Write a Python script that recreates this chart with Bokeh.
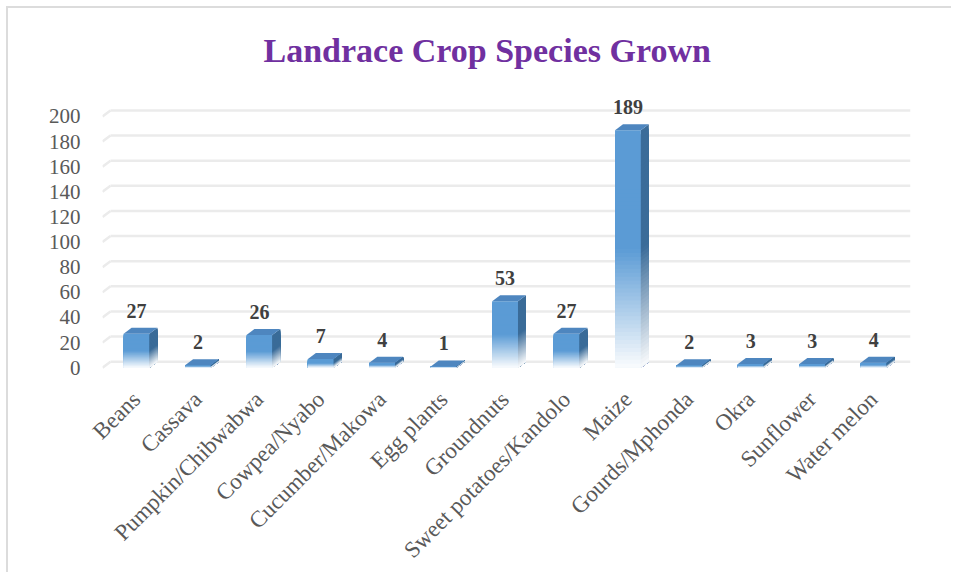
from bokeh.plotting import figure
from bokeh.models import Range1d, FixedTicker, ColumnDataSource
from bokeh.embed import file_html
from bokeh.resources import INLINE
import math

# ---- data ----
categories = ["Beans", "Cassava", "Pumpkin/Chibwabwa", "Cowpea/Nyabo", "Cucumber/Makowa",
              "Egg plants", "Groundnuts", "Sweet potatoes/Kandolo", "Maize", "Gourds/Mphonda",
              "Okra", "Sunflower", "Water melon"]
counts = [27, 2, 26, 7, 4, 1, 53, 27, 189, 2, 3, 3, 4]
y_ticks = [0, 20, 40, 60, 80, 100, 120, 140, 160, 180, 200]
title_text = "Landrace Crop Species Grown"

# ---- style / geometry ----
FRONT = (91, 155, 213)
SIDE = (59, 108, 153)
TOP = "#4E86BF"
HALF = 0.21        # half width of front face (category units)
DX = 0.13          # 3D depth offset, x (category units)
DY = 4.76          # 3D depth offset, y (value units)
NSLICE = 60

x_start, x_end = -0.554, 12.6
y_start, y_end = -3, 221.4

p = figure(width=945, height=566, output_backend="svg", toolbar_location=None,
           x_range=Range1d(x_start, x_end), y_range=Range1d(y_start, y_end),
           min_border_left=94, min_border_right=43, min_border_top=80, min_border_bottom=203)
p.margin = (6, 0, 0, 6)
p.outline_line_color = None
p.background_fill_color = "white"
p.border_fill_color = "white"
p.xgrid.visible = False
p.ygrid.visible = False
p.styles = {"border-left": "2px solid #DCDCDC", "border-top": "2px solid #DCDCDC"}

# title
p.title.text = title_text
p.title.align = "left"
p.title.text_font = "Liberation Serif"
p.title.text_font_style = "bold"
p.title.text_font_size = "34px"
p.title.text_color = "#7030A0"
p.title.offset = 161
p.title.standoff = 42

# gridlines with a 3D back-wall slant
g_x0, g_y0, g_x1, g_y1 = [], [], [], []
for v in y_ticks:
    g_x0 += [x_start, x_start + DX]
    g_y0 += [v, v + DY]
    g_x1 += [x_start + DX, x_end]
    g_y1 += [v + DY, v + DY]
p.segment(g_x0, g_y0, g_x1, g_y1, line_color="#EBEBEB", line_width=2.5)


def blend(rgb, f):
    # f: 0 at top of bar, 1 at bottom
    if f < 0.5:
        a = 1.0
    else:
        a = max(0.05, 1 - (f - 0.5) / 0.5 * 0.97)
    c = [int(round(ch * a + 255 * (1 - a))) for ch in rgb]
    return "#%02x%02x%02x" % tuple(c)


xs, ys, cols = [], [], []
for i, v in enumerate(counts):
    for k in range(NSLICE):
        ytop = v - v * k / NSLICE
        f = (k + 0.5) / NSLICE
        # front slice (drawn down to the base; later slices cover the lower part)
        xs.append([i - HALF, i + HALF, i + HALF, i - HALF])
        ys.append([0, 0, ytop, ytop])
        cols.append(blend(FRONT, f))
        # side slice
        xs.append([i + HALF, i + HALF + DX, i + HALF + DX, i + HALF])
        ys.append([0, DY, ytop + DY, ytop])
        cols.append(blend(SIDE, f))
    # top face
    xs.append([i - HALF, i - HALF + DX, i + HALF + DX, i + HALF])
    ys.append([v, v + DY, v + DY, v])
    cols.append(TOP)
p.patches(xs, ys, fill_color=cols, line_color=None)

# data labels
src = ColumnDataSource(dict(x=list(range(len(counts))), y=[c + DY for c in counts],
                            t=[str(c) for c in counts]))
p.text(x="x", y="y", text="t", source=src, text_align="center", text_baseline="bottom",
       y_offset=-10, text_font={"value": "Liberation Serif"}, text_font_style="bold",
       text_font_size="20px", text_color="#404040")

# axes
p.xaxis.ticker = FixedTicker(ticks=list(range(len(categories))))
p.xaxis.major_label_overrides = {i: c for i, c in enumerate(categories)}
p.xaxis.major_label_orientation = math.pi / 4
p.xaxis.axis_line_color = None
p.xaxis.major_tick_line_color = None
p.xaxis.minor_tick_line_color = None
p.xaxis.major_label_text_font = "Liberation Serif"
p.xaxis.major_label_text_font_size = "23px"
p.xaxis.major_label_text_color = "#595959"
p.xaxis.major_label_standoff = 18

p.yaxis.ticker = FixedTicker(ticks=y_ticks)
p.yaxis.axis_line_color = None
p.yaxis.major_tick_line_color = None
p.yaxis.minor_tick_line_color = None
p.yaxis.major_label_text_font = "Liberation Serif"
p.yaxis.major_label_text_font_size = "21px"
p.yaxis.major_label_text_color = "#595959"
p.yaxis.major_label_standoff = 16

open("out.html", "w").write(file_html(p, INLINE))
